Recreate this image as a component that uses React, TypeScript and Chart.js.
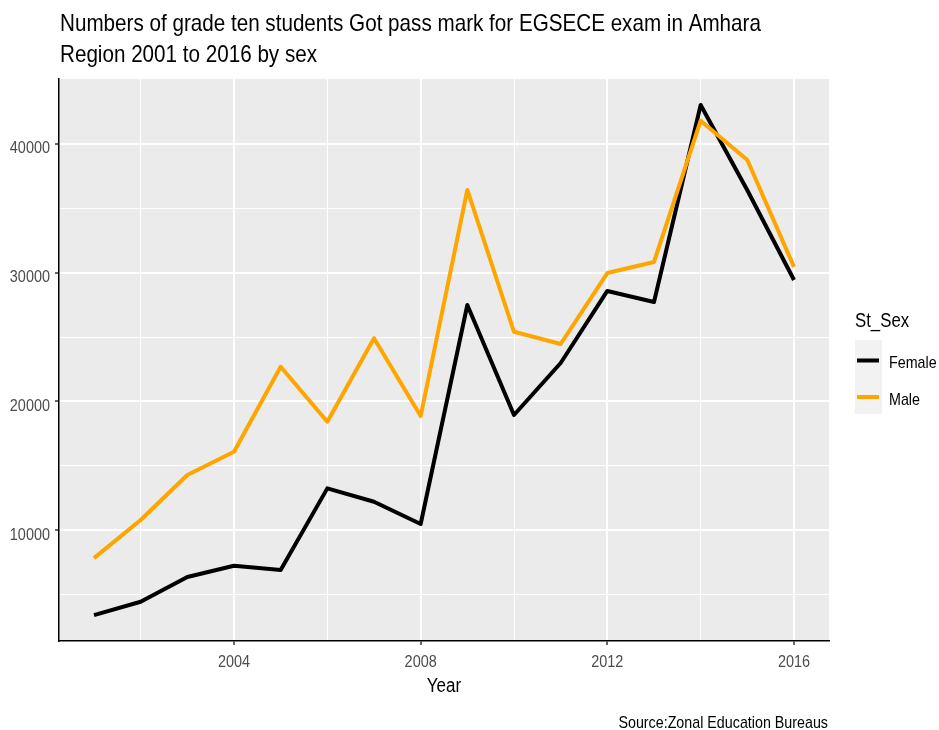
import React, { useEffect, useRef } from "react";
import { Chart, registerables } from "chart.js";

Chart.register(...registerables);

const years = [2001, 2002, 2003, 2004, 2005, 2006, 2007, 2008, 2009, 2010, 2011, 2012, 2013, 2014, 2015, 2016];
const female = [3390, 4430, 6350, 7230, 6890, 13240, 12200, 10470, 27490, 18940, 22980, 28580, 27720, 43030, 36400, 29430];
const male = [7820, 10780, 14280, 16090, 22690, 18420, 24900, 18860, 36430, 25410, 24460, 29970, 30830, 41810, 38760, 30450];
const xTickValues = [2002, 2004, 2006, 2008, 2010, 2012, 2014, 2016];
const yTickValues = [5000, 10000, 15000, 20000, 25000, 30000, 35000, 40000];
const titleLines = ["Numbers of grade ten students Got pass mark for EGSECE exam in Amhara", "Region 2001 to 2016 by sex"];
const xAxisTitle = "Year";
const legendTitle = "St_Sex";
const caption = "Source:Zonal Education Bureaus";

const FONT = '"Liberation Sans", Arial, sans-serif';

const isMajorX = (v: number) => v % 4 === 0;
const isMajorY = (v: number) => v % 10000 === 0;

function drawText(ctx: any, text: string, x: number, y: number, size: number, sx: number, align: string, color: string) {
  ctx.save();
  ctx.font = `${size}px ${FONT}`;
  ctx.fillStyle = color;
  ctx.textBaseline = "alphabetic";
  ctx.textAlign = "left";
  const w = ctx.measureText(text).width * sx;
  const left = align === "left" ? x : align === "center" ? x - w / 2 : x - w;
  ctx.translate(left, y);
  ctx.scale(sx, 1);
  ctx.fillText(text, 0, 0);
  ctx.restore();
}

const decorPlugin = {
  id: "decor",
  beforeDraw(chart: any) {
    const { ctx, chartArea } = chart;
    ctx.save();
    ctx.fillStyle = "#EBEBEB";
    ctx.fillRect(chartArea.left, chartArea.top, chartArea.right - chartArea.left, chartArea.bottom - chartArea.top);
    ctx.restore();
  },
  afterDraw(chart: any) {
    const { ctx, chartArea } = chart;
    const xs = chart.scales.x;
    const ys = chart.scales.y;
    // tick labels
    xs.ticks.forEach((t: any) => {
      if (isMajorX(t.value)) drawText(ctx, String(t.value), xs.getPixelForValue(t.value), 667, 17, 0.85, "center", "#4D4D4D");
    });
    ys.ticks.forEach((t: any) => {
      if (isMajorY(t.value)) drawText(ctx, String(t.value), 50, ys.getPixelForValue(t.value) + 9.5, 17, 0.85, "right", "#4D4D4D");
    });
    // title
    drawText(ctx, titleLines[0], 60, 31, 24, 0.86, "left", "#000");
    drawText(ctx, titleLines[1], 60, 62, 24, 0.86, "left", "#000");
    // x axis title
    drawText(ctx, xAxisTitle, (chartArea.left + chartArea.right) / 2, 692, 20, 0.85, "center", "#000");
    // caption
    drawText(ctx, caption, 828, 728, 17, 0.84, "right", "#000");
    // legend
    drawText(ctx, legendTitle, 855, 327, 20, 0.84, "left", "#000");
    const ds = chart.data.datasets;
    ctx.save();
    ctx.fillStyle = "#F2F2F2";
    ctx.fillRect(855, 340, 27, 37 * ds.length);
    ds.forEach((d: any, i: number) => {
      const cy = 360.5 + i * 36.5;
      ctx.strokeStyle = d.borderColor;
      ctx.lineWidth = 4;
      ctx.beginPath();
      ctx.moveTo(857, cy);
      ctx.lineTo(879, cy);
      ctx.stroke();
      drawText(ctx, d.label, 889, cy + 7.5, 17, 0.84, "left", "#000");
    });
    ctx.restore();
  },
};

export default function App() {
  const ref = useRef<HTMLCanvasElement>(null);
  useEffect(() => {
    if (!ref.current) return;
    const chart = new Chart(ref.current, {
      type: "line",
      data: {
        datasets: [
          {
            label: "Female",
            data: years.map((y, i) => ({ x: y, y: female[i] })),
            borderColor: "#000000",
            backgroundColor: "#000000",
            borderWidth: 4,
            pointRadius: 0,
            tension: 0,
            borderJoinStyle: "round",
            order: 1,
          },
          {
            label: "Male",
            data: years.map((y, i) => ({ x: y, y: male[i] })),
            borderColor: "#FFA500",
            backgroundColor: "#FFA500",
            borderWidth: 4,
            pointRadius: 0,
            tension: 0,
            borderJoinStyle: "round",
            order: 0,
          },
        ],
      },
      options: {
        responsive: false,
        animation: false,
        layout: { padding: { top: 79, right: 110, bottom: 0, left: 0 } },
        plugins: { legend: { display: false }, title: { display: false }, tooltip: { enabled: false } },
        scales: {
          x: {
            type: "linear",
            min: 2000.25,
            max: 2016.75,
            afterFit: (s: any) => { s.height = 89; },
            afterBuildTicks: (s: any) => { s.ticks = xTickValues.map((v) => ({ value: v })); },
            border: { display: true, color: "#000", width: 1.5 },
            grid: {
              color: "#FFFFFF",
              lineWidth: (c: any) => (c.tick && isMajorX(c.tick.value) ? 2 : 1),
              tickColor: (c: any) => (c.tick && isMajorX(c.tick.value) ? "#333333" : "rgba(0,0,0,0)"),
              tickLength: 4,
              tickWidth: 1.5,
              drawTicks: true,
            },
            ticks: { display: false, autoSkip: false, maxRotation: 0 },
          },
          y: {
            type: "linear",
            min: 1380,
            max: 45050,
            afterFit: (s: any) => { s.width = 59; },
            afterBuildTicks: (s: any) => { s.ticks = yTickValues.map((v) => ({ value: v })); },
            border: { display: true, color: "#000", width: 1.5 },
            grid: {
              color: "#FFFFFF",
              lineWidth: (c: any) => (c.tick && isMajorY(c.tick.value) ? 2 : 1),
              tickColor: (c: any) => (c.tick && isMajorY(c.tick.value) ? "#333333" : "rgba(0,0,0,0)"),
              tickLength: 4,
              tickWidth: 1.5,
              drawTicks: true,
            },
            ticks: { display: false, autoSkip: false },
          },
        },
      },
      plugins: [decorPlugin],
    } as any);
    return () => chart.destroy();
  }, []);
  return (
    <div style={{ position: "absolute", left: 0, top: 0, width: 939, height: 730, background: "#fff" }}>
      <canvas ref={ref} width={939} height={730} style={{ width: 939, height: 730 }} />
    </div>
  );
}
